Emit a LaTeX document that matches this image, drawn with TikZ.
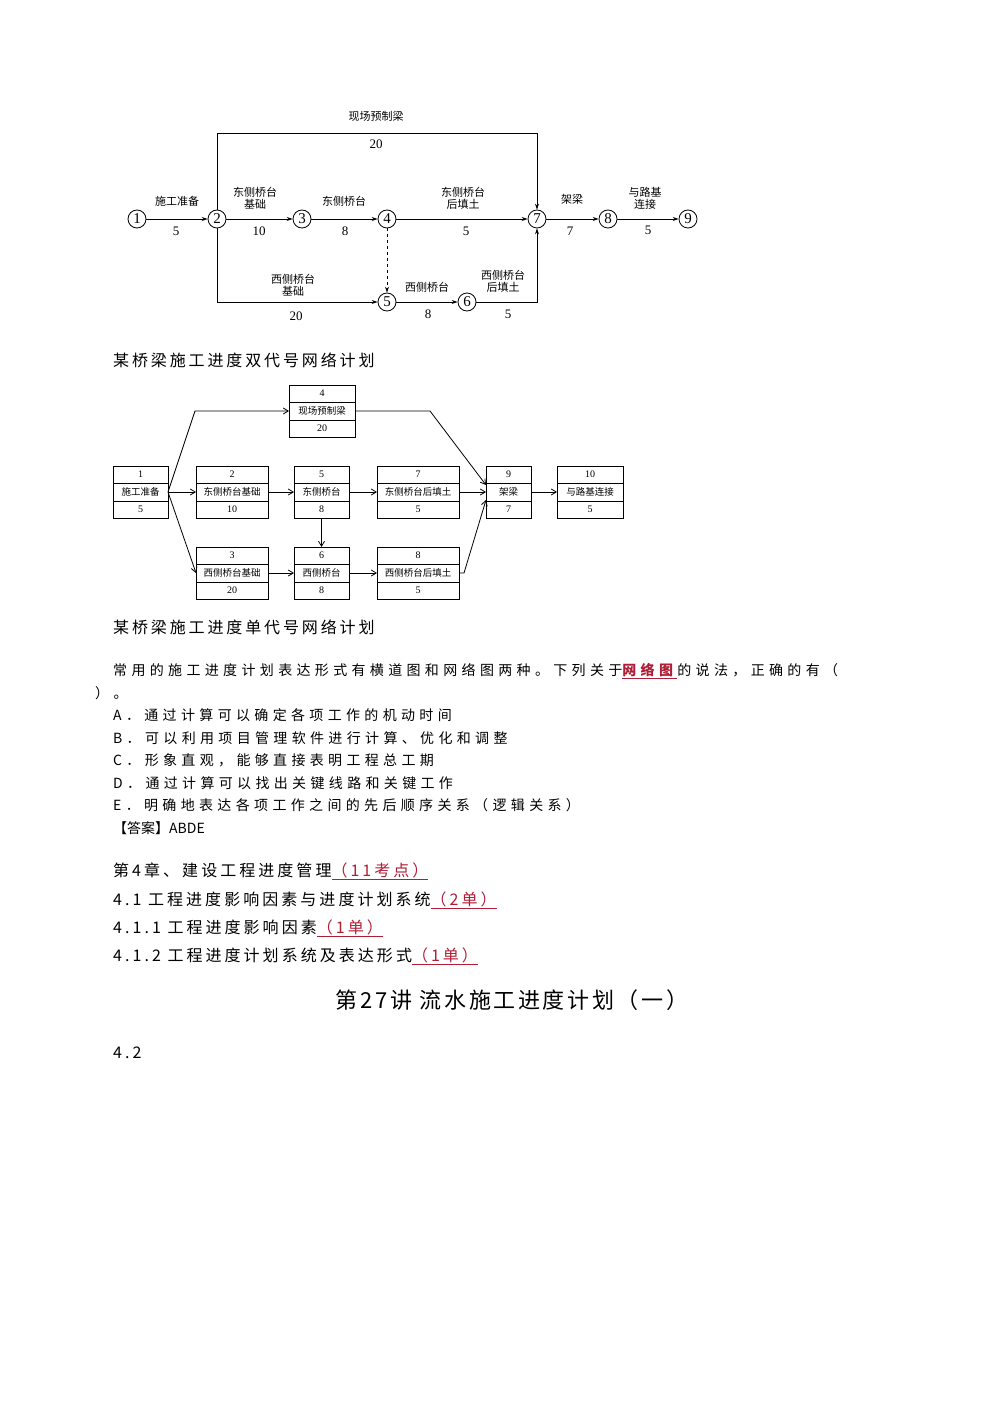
\documentclass[tikz,border=0pt]{standalone}
\usepackage{fontspec}
\setmainfont{Liberation Serif}
\newfontfamily\cjk{Noto Sans CJK SC}
\newfontfamily\cjkt[LetterSpace=31]{Noto Sans CJK SC}
\newfontfamily\cjkh[LetterSpace=19]{Noto Sans CJK SC}
\newfontfamily\cjkc[LetterSpace=18]{Noto Sans CJK SC}
\newfontfamily\cjkT[LetterSpace=12]{Noto Sans CJK SC}
\usetikzlibrary{arrows.meta}
\definecolor{hred}{RGB}{175,30,55}
\begin{document}
\begin{tikzpicture}[x=1pt,y=-1pt,
  ev/.style={circle,draw,thick,inner sep=0pt,minimum size=18pt,font=\fontsize{15}{15}\selectfont},
  lb/.style={font=\cjk\fontsize{11}{12}\selectfont,align=center},
  nm/.style={font=\fontsize{13}{13}\selectfont},
  ar/.style={draw,thick,-{Stealth[length=6pt,width=4pt]}},
  bx/.style={font=\cjk\fontsize{9.5}{10}\selectfont},
  tx/.style={anchor=west,font=\cjkt\fontsize{14}{14}\selectfont,inner sep=0pt},
  hd/.style={anchor=west,font=\cjkh\fontsize{16}{16}\selectfont,inner sep=0pt}]
\useasboundingbox (0,0) rectangle (1000,1415);
% ---- double-code network
\node[ev] (n1) at (137,219) {1};
\node[ev] (n2) at (217,219) {2};
\node[ev] (n3) at (302,219) {3};
\node[ev] (n4) at (387,219) {4};
\node[ev] (n7) at (537,219) {7};
\node[ev] (n8) at (608,219) {8};
\node[ev] (n9) at (688,219) {9};
\node[ev] (n5) at (387,302) {5};
\node[ev] (n6) at (467,302) {6};
\draw[ar] (n1) -- (n2);
\draw[ar] (n2) -- (n3);
\draw[ar] (n3) -- (n4);
\draw[ar] (n4) -- (n7);
\draw[ar] (n7) -- (n8);
\draw[ar] (n8) -- (n9);
\draw[ar] (n2) |- (217,133) -| (n7);
\draw[ar] (n2) |- (n5);
\draw[ar] (n5) -- (n6);
\draw[ar] (n6) -| (n7);
\draw[ar,dashed] (n4) -- (n5);
\node[lb] (l1) at (376,116) {现场预制梁};
\node[nm] (v1) at (376,144) {20};
\node[lb] (l2) at (177,201) {施工准备};
\node[nm] (v2) at (176,231) {5};
\node[lb] (l3) at (255,198) {东侧桥台\\基础};
\node[nm] (v3) at (259,231) {10};
\node[lb] (l4) at (344,201) {东侧桥台};
\node[nm] (v4) at (345,231) {8};
\node[lb] (l5) at (463,198) {东侧桥台\\后填土};
\node[nm] (v5) at (466,231) {5};
\node[lb] (l6) at (572,199) {架梁};
\node[nm] (v6) at (570,231) {7};
\node[lb] (l7) at (645,198) {与路基\\连接};
\node[nm] (v7) at (648,230) {5};
\node[lb] (l8) at (293,285) {西侧桥台\\基础};
\node[nm] (v8) at (296,316) {20};
\node[lb] (l9) at (427,287) {西侧桥台};
\node[nm] (v9) at (428,314) {8};
\node[lb] (l10) at (503,281) {西侧桥台\\后填土};
\node[nm] (v10) at (508,314) {5};
\node[anchor=west,inner sep=0pt,font=\cjkc\fontsize{16}{16}\selectfont] (c1) at (113,360) {某桥梁施工进度双代号网络计划};
% ---- single-code network
\newcommand\abox[6]{%
  \draw[thick] (#1,#2) rectangle (#3,#2+52);
  \draw (#1,#2+17) -- (#3,#2+17) (#1,#2+35) -- (#3,#2+35);
  \node[font=\fontsize{10}{10}\selectfont] at ({(#1+#3)/2},#2+8.5) {#5};
  \node[bx] at ({(#1+#3)/2},#2+26) {#6};
  \node[font=\fontsize{10}{10}\selectfont] at ({(#1+#3)/2},#2+43.5) {#4};
  \coordinate (#5w) at (#1,#2+26);
  \coordinate (#5e) at (#3,#2+26);
  \coordinate (#5n) at ({(#1+#3)/2},#2);
  \coordinate (#5s) at ({(#1+#3)/2},#2+52);}
\abox{289}{385}{355}{20}{4}{现场预制梁}
\abox{113}{466}{168}{5}{1}{施工准备}
\abox{196}{466}{268}{10}{2}{东侧桥台基础}
\abox{294}{466}{349}{8}{5}{东侧桥台}
\abox{377}{466}{459}{5}{7}{东侧桥台后填土}
\abox{486}{466}{531}{7}{9}{架梁}
\abox{557}{466}{623}{5}{10}{与路基连接}
\abox{196}{547}{268}{20}{3}{西侧桥台基础}
\abox{294}{547}{349}{8}{6}{西侧桥台}
\abox{377}{547}{459}{5}{8}{西侧桥台后填土}
\tikzset{sa/.style={draw,thick,-{Straight Barb[length=5pt,width=6pt]}}}
\draw[sa] (1e) -- (2w);
\draw[sa] (2e) -- (5w);
\draw[sa] (5e) -- (7w);
\draw[sa] (7e) -- (9w);
\draw[sa] (9e) -- (10w);
\draw[sa] (3e) -- (6w);
\draw[sa] (6e) -- (8w);
\draw[sa] (5s) -- (6n);
\draw[sa] (1e) -- (195,411) -- (4w);
\draw[sa] (1e) -- (196,573);
\draw[sa] (4e) -- (430,411) -- (486,485);
\draw[sa] (8e) -- (464,573) -- (486,500);
\node[anchor=west,inner sep=0pt,font=\cjkc\fontsize{16}{16}\selectfont] (c2) at (113,627) {某桥梁施工进度单代号网络计划};
% ---- text
\node[tx] (t0) at (113,671) {常用的施工进度计划表达形式有横道图和网络图两种。下列关于\textcolor{hred}{\underline{\textbf{网络图}}}的说法，正确的有（};
\node[tx] (t1) at (95,693) {）。};
\node[tx] (ta) at (113,715) {A．通过计算可以确定各项工作的机动时间};
\node[tx] (tb) at (113,738) {B．可以利用项目管理软件进行计算、优化和调整};
\node[tx] (tc) at (113,760) {C．形象直观，能够直接表明工程总工期};
\node[tx] (td) at (113,783) {D．通过计算可以找出关键线路和关键工作};
\node[tx] (te) at (113,805) {E．明确地表达各项工作之间的先后顺序关系（逻辑关系）};
\node[tx,font=\cjk\fontsize{14}{14}\selectfont] (tf) at (113,828) {【答案】ABDE};
\node[hd] (h1) at (113,871) {第4章、建设工程进度管理\textcolor{hred}{\underline{（11考点）}}};
\node[hd] (h2) at (113,900) {4.1 工程进度影响因素与进度计划系统\textcolor{hred}{\underline{（2单）}}};
\node[hd] (h3) at (113,928) {4.1.1 工程进度影响因素\textcolor{hred}{\underline{（1单）}}};
\node[hd] (h4) at (113,956) {4.1.2 工程进度计划系统及表达形式\textcolor{hred}{\underline{（1单）}}};
\node[font=\cjkT\fontsize{22}{22}\selectfont] (title) at (512,1000) {第27讲 流水施工进度计划（一）};
\node[hd] (h5) at (113,1053) {4.2};
\end{tikzpicture}
\end{document}
